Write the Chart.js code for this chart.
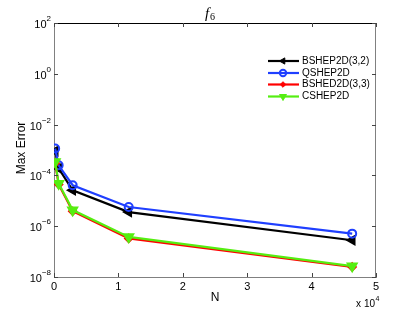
<!DOCTYPE html>
<html>
<head>
<meta charset="utf-8">
<script src="https://cdn.jsdelivr.net/npm/chart.js@4"></script>
<style>
  html, body { margin: 0; padding: 0; background: #fff; }
  #wrap { width: 415px; height: 313px; }
</style>
</head>
<body>
<div id="wrap"><canvas id="chart"></canvas></div>
<script>
// data (N in units of 1e4)
const nValues = [0.018, 0.0725, 0.29, 1.16, 4.63];
const bshep32 = [9.0e-4, 1.9e-4, 2.6e-5, 3.6e-6, 2.8e-7];
const qshep = [1.15e-3, 2.5e-4, 4.1e-5, 5.7e-6, 5.1e-7];
const bshed33 = [3.0e-4, 4.4e-5, 3.9e-6, 3.3e-7, 2.5e-8];
const cshep = [3.4e-4, 4.8e-5, 4.3e-6, 3.8e-7, 2.7e-8];
const seriesNames = ['BSHEP2D(3,2)', 'QSHEP2D', 'BSHED2D(3,3)', 'CSHEP2D'];
const xTicks = [0, 1, 2, 3, 4, 5];
const yExps = [2, 0, -2, -4, -6, -8];

function pts(ys) {
    return nValues.map((x, i) => ({ x: x, y: ys[i] }));
}

const datasets = [
    { label: seriesNames[0], data: pts(bshep32), borderColor: '#000000', backgroundColor: '#000000',
      pointStyle: 'triangle', rotation: -90, pointRadius: 4.5, order: 3 },
    { label: seriesNames[1], data: pts(qshep), borderColor: '#1f3fff', backgroundColor: 'rgba(0,0,0,0)',
      pointStyle: 'circle', pointRadius: 4, pointBorderWidth: 2, order: 2 },
    { label: seriesNames[2], data: pts(bshed33), borderColor: '#ff0000', backgroundColor: '#ff0000',
      pointStyle: 'rectRot', pointRadius: 3.5, order: 1 },
    { label: seriesNames[3], data: pts(cshep), borderColor: '#55ee11', backgroundColor: '#55ee11',
      pointStyle: 'triangle', rotation: 180, pointRadius: 5, order: 0 }
];
datasets.forEach(d => { d.showLine = true; d.borderWidth = 2.2; d.tension = 0; });

const matlabLook = {
    id: 'matlabLook',
    afterDraw(chart) {
        const ctx = chart.ctx;
        const a = chart.chartArea;
        const xs = chart.scales.x, ys = chart.scales.y;
        ctx.save();
        // top and right border
        ctx.strokeStyle = '#000';
        ctx.lineWidth = 1;
        ctx.beginPath();
        ctx.moveTo(a.left, a.top + 0.5); ctx.lineTo(a.right, a.top + 0.5);
        ctx.stroke();
        ctx.strokeStyle = '#808080';
        ctx.beginPath();
        ctx.moveTo(a.right - 0.5, a.top); ctx.lineTo(a.right - 0.5, a.bottom);
        ctx.stroke();

        // inward ticks
        ctx.strokeStyle = '#444';
        ctx.beginPath();
        xTicks.forEach(t => {
            const px = Math.round(xs.getPixelForValue(t)) + 0.5;
            ctx.moveTo(px, a.bottom); ctx.lineTo(px, a.bottom - 4);
            ctx.moveTo(px, a.top); ctx.lineTo(px, a.top + 4);
        });
        yExps.forEach(e => {
            const py = Math.round(ys.getPixelForValue(Math.pow(10, e))) + 0.5;
            ctx.moveTo(a.left, py); ctx.lineTo(a.left + 4, py);
            ctx.moveTo(a.right, py); ctx.lineTo(a.right - 4, py);
        });
        ctx.stroke();

        // tick labels
        ctx.fillStyle = '#000';
        ctx.textBaseline = 'middle';
        ctx.font = '11px "Liberation Sans", Arial, sans-serif';
        ctx.textAlign = 'center';
        xTicks.forEach(t => {
            ctx.fillText(String(t), xs.getPixelForValue(t), a.bottom + 10);
        });
        yExps.forEach(e => {
            const py = ys.getPixelForValue(Math.pow(10, e));
            const ex = String(e).replace('-', '\u2212');
            ctx.font = '8px "Liberation Sans", Arial, sans-serif';
            const ew = ctx.measureText(ex).width;
            const right = a.left - 3;
            ctx.textAlign = 'left';
            ctx.fillText(ex, right - ew, py - 4);
            ctx.font = '11px "Liberation Sans", Arial, sans-serif';
            ctx.textAlign = 'right';
            ctx.fillText('10', right - ew, py + 2);
        });

        // axis titles
        ctx.textAlign = 'center';
        ctx.font = '12px "Liberation Sans", Arial, sans-serif';
        ctx.fillText('N', 215, 298);
        ctx.save();
        ctx.translate(22, 148);
        ctx.rotate(-Math.PI / 2);
        ctx.fillText('Max Error', 0, 0);
        ctx.restore();
        // x multiplier
        ctx.font = '10px "Liberation Sans", Arial, sans-serif';
        ctx.textAlign = 'right';
        ctx.fillText('x 10', 375, 304);
        ctx.font = '7px "Liberation Sans", Arial, sans-serif';
        ctx.textAlign = 'left';
        ctx.fillText('4', 375.5, 299);

        // title f_6
        ctx.font = 'italic 15px "Liberation Serif", "DejaVu Serif", serif';
        ctx.textAlign = 'left';
        ctx.fillText('f', 205, 14);
        ctx.font = '10px "Liberation Serif", "DejaVu Serif", serif';
        ctx.fillText('6', 210, 17);

        // legend
        const lx = 268, tx = 302, rowY = [61, 73, 84.5, 96.5];
        chart.data.datasets.forEach((d, i) => {
            const y = rowY[i];
            ctx.strokeStyle = d.borderColor;
            ctx.fillStyle = d.backgroundColor;
            ctx.lineWidth = 2.2;
            ctx.beginPath();
            ctx.moveTo(lx, y); ctx.lineTo(lx + 31, y);
            ctx.stroke();
            ctx.lineWidth = d.pointBorderWidth || 1;
            Chart.helpers.drawPoint(ctx, {
                pointStyle: d.pointStyle, rotation: d.rotation || 0, radius: d.pointRadius * 0.8,
                borderWidth: d.pointBorderWidth || 1
            }, lx + 15, y);
            ctx.fillStyle = '#000';
            ctx.font = '10px "Liberation Sans", Arial, sans-serif';
            ctx.textAlign = 'left';
            ctx.textBaseline = 'middle';
            ctx.fillText(d.label, tx, y);
        });
        ctx.restore();
    }
};

new Chart(document.getElementById('chart'), {
    type: 'scatter',
    data: { datasets: datasets },
    plugins: [matlabLook],
    options: {
        responsive: true,
        maintainAspectRatio: false,
        animation: false,
        layout: { padding: { top: 23, right: 39, left: 0, bottom: 0 } },
        plugins: { legend: { display: false }, tooltip: { enabled: false } },
        scales: {
            x: {
                type: 'linear', min: 0, max: 5,
                afterFit: s => { s.height = 36; },
                grid: { display: true, drawOnChartArea: false, drawTicks: false },
                border: { color: '#808080', width: 1 },
                ticks: { display: false }
            },
            y: {
                type: 'logarithmic', min: 1e-8, max: 1e2,
                afterFit: s => { s.width = 54; },
                afterBuildTicks: s => { s.ticks = yExps.map(e => ({ value: Math.pow(10, e) })); },
                grid: { display: true, drawOnChartArea: false, drawTicks: false },
                border: { color: '#808080', width: 1 },
                ticks: { display: false }
            }
        }
    }
});
</script>
</body>
</html>
